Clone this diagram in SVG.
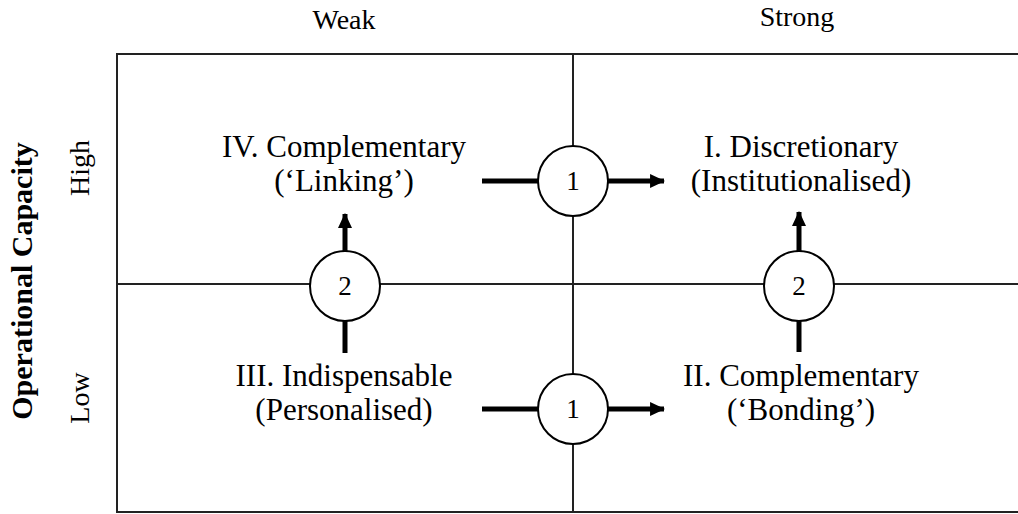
<svg xmlns="http://www.w3.org/2000/svg" width="1018" height="514" viewBox="0 0 1018 514">
<style>
text{font-family:"Liberation Serif","Times New Roman",serif;fill:#000}
.lbl{font-size:31px;text-anchor:middle}
.ax{font-size:28px;text-anchor:middle}
.grid{stroke:#222;stroke-width:2;fill:none}
.conn{stroke:#000;stroke-width:5;fill:none}
.circ{fill:#fff;stroke:#000;stroke-width:2}
.num{font-size:27px;text-anchor:middle}
</style>
<defs>
<marker id="ah" viewBox="0 0 14 14" refX="13" refY="7" markerWidth="15" markerHeight="14" markerUnits="userSpaceOnUse" orient="auto" preserveAspectRatio="none">
<path d="M0,0 L14,7 L0,14 Z" fill="#000"/>
</marker>
</defs>
<rect width="1018" height="514" fill="#fff"/>
<g id="grid">
<rect class="grid" x="117" y="54" width="910" height="458"/>
<line class="grid" x1="573" y1="54" x2="573" y2="512"/>
<line class="grid" x1="117" y1="284" x2="1018" y2="284"/>
</g>
<g id="axes">
<text class="ax" x="344" y="29">Weak</text>
<text class="ax" x="797" y="26">Strong</text>
<text font-size="30" font-weight="bold" text-anchor="middle" transform="translate(32,281) rotate(-90)">Operational Capacity</text>
<text class="ax" transform="translate(89,168) rotate(-90)">High</text>
<text class="ax" transform="translate(89,398) rotate(-90)">Low</text>
</g>
<g id="connectors">
<line class="conn" x1="482" y1="181" x2="538" y2="181"/>
<line class="conn" x1="608" y1="181" x2="664" y2="181" marker-end="url(#ah)"/>
<line class="conn" x1="482" y1="409" x2="538" y2="409"/>
<line class="conn" x1="608" y1="409" x2="664" y2="409" marker-end="url(#ah)"/>
<line class="conn" x1="345" y1="353" x2="345" y2="321"/>
<line class="conn" x1="345" y1="251" x2="345" y2="214" marker-end="url(#ah)"/>
<line class="conn" x1="799" y1="352" x2="799" y2="321"/>
<line class="conn" x1="799" y1="251" x2="799" y2="212" marker-end="url(#ah)"/>
</g>
<g id="q4">
<text class="lbl" x="344" y="157">IV. Complementary</text>
<text class="lbl" x="344" y="191">(‘Linking’)</text>
</g>
<g id="q1">
<text class="lbl" x="801" y="157">I. Discretionary</text>
<text class="lbl" x="801" y="191">(Institutionalised)</text>
</g>
<g id="q3">
<text class="lbl" x="344" y="386">III. Indispensable</text>
<text class="lbl" x="344" y="420">(Personalised)</text>
</g>
<g id="q2">
<text class="lbl" x="801" y="386">II. Complementary</text>
<text class="lbl" x="801" y="420">(‘Bonding’)</text>
</g>
<g id="c1top"><circle class="circ" cx="573" cy="181" r="35"/><text class="num" x="573" y="190">1</text></g>
<g id="c1bot"><circle class="circ" cx="573" cy="409" r="35"/><text class="num" x="573" y="418">1</text></g>
<g id="c2left"><circle class="circ" cx="345" cy="286" r="35"/><text class="num" x="345" y="295">2</text></g>
<g id="c2right"><circle class="circ" cx="799" cy="286" r="35"/><text class="num" x="799" y="295">2</text></g>
</svg>
